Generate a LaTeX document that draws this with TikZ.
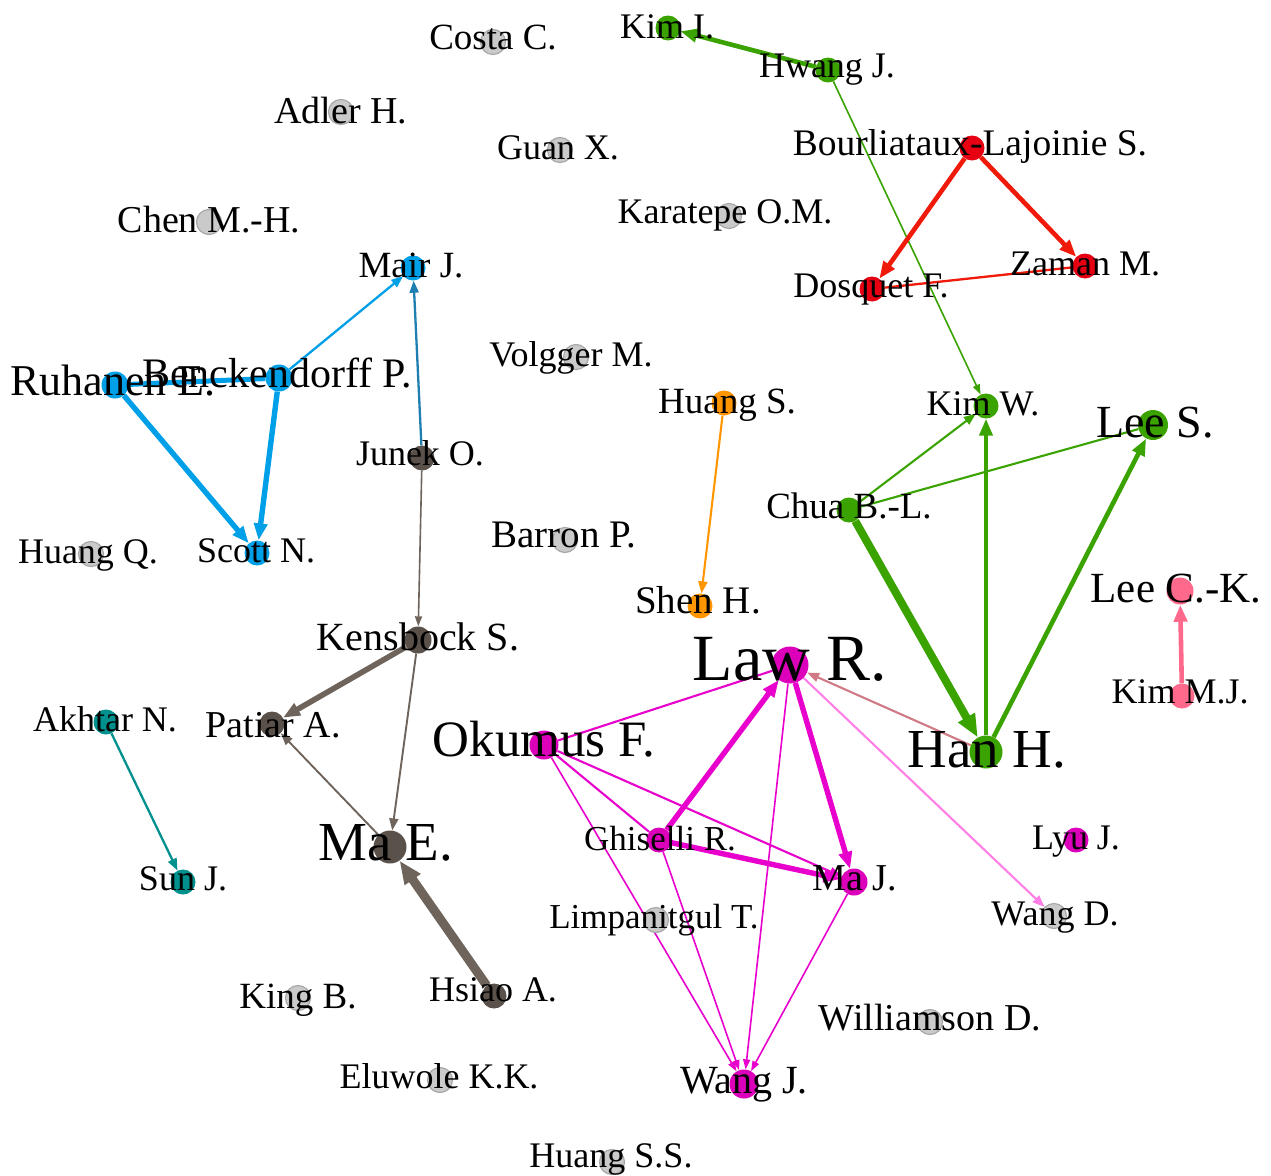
\documentclass[tikz,border=0pt]{standalone}
\usepackage{fontspec}
\setmainfont{Liberation Serif}
\usetikzlibrary{arrows.meta}
\pgfdeclarelayer{edgelayer}
\pgfsetlayers{edgelayer,main}
\definecolor{cgray}{HTML}{CACACA}
\definecolor{cgrayb}{HTML}{A8A8A8}
\definecolor{cblue}{HTML}{00A0E9}
\definecolor{cblued}{HTML}{1F7FB0}
\definecolor{cred}{HTML}{F01A0A}
\definecolor{credn}{HTML}{E60012}
\definecolor{cgreen}{HTML}{3AA300}
\definecolor{corange}{HTML}{FF9600}
\definecolor{cbrown}{HTML}{5A514A}
\definecolor{cbrowne}{HTML}{6E645C}
\definecolor{cmag}{HTML}{E800CC}
\definecolor{cmagn}{HTML}{DD00BB}
\definecolor{cpink}{HTML}{FF6A8C}
\definecolor{cteal}{HTML}{00918F}
\definecolor{crose}{HTML}{D07A86}
\definecolor{clmag}{HTML}{FF7FE6}
\newcommand{\fsz}[1]{\fontsize{#1}{#1}\selectfont}
\begin{document}
\begin{tikzpicture}[x=1pt,y=-1pt,
  nd/.style={circle,inner sep=0pt,minimum size=25pt},
  gnode/.style={nd,fill=cgray,draw=cgrayb,line width=1.2pt},
  lab/.style={anchor=base,inner sep=0pt,text=black,font=\fsz{36}},
  ea/.style={line width=1.6pt,-{Triangle[length=10pt,width=7pt]}},
  eb/.style={line width=2.3pt,-{Triangle[length=12pt,width=9pt]}},
  ec/.style={line width=4.6pt,-{Triangle[length=17pt,width=13pt]}},
  ed/.style={line width=8pt,-{Triangle[length=23pt,width=18pt]}},
  nb/.style={line width=2.3pt},
  nc/.style={line width=5pt}]
\useasboundingbox (0,0) rectangle (1271,1175);
% ---- node circles ----
\node[gnode] (costa) at (493,42) {};
\node[nd,fill=cgreen] (kimi) at (668,28) {};
\node[nd,fill=cgreen] (hwang) at (828,70) {};
\node[gnode] (adler) at (341,112) {};
\node[gnode] (guan) at (560,150) {};
\node[nd,fill=credn] (bourl) at (972,148) {};
\node[gnode] (chen) at (209,222) {};
\node[gnode] (karatepe) at (729,216) {};
\node[nd,fill=cblue] (mair) at (413,268) {};
\node[nd,fill=credn] (zaman) at (1085,266) {};
\node[nd,fill=credn] (dosquet) at (872,289) {};
\node[gnode] (volgger) at (576,357) {};
\node[nd,fill=cblue,minimum size=27pt] (ruhanen) at (115,385) {};
\node[nd,fill=cblue,minimum size=27pt] (benck) at (279,378) {};
\node[nd,fill=corange] (huangs) at (724,403) {};
\node[nd,fill=cgreen] (kimw) at (986,406) {};
\node[nd,fill=cgreen,minimum size=30pt] (lees) at (1153,425) {};
\node[nd,fill=cbrown] (junek) at (422,458) {};
\node[nd,fill=cgreen] (chua) at (849,510) {};
\node[gnode] (barron) at (565,540) {};
\node[gnode] (huangq) at (91,554) {};
\node[nd,fill=cblue] (scott) at (257,553) {};
\node[nd,fill=corange] (shen) at (700,606) {};
\node[nd,fill=cpink,minimum size=27pt] (leeck) at (1180,591) {};
\node[nd,fill=cbrown,minimum size=27pt] (kensbock) at (418,640) {};
\node[nd,fill=cmagn,minimum size=37pt] (law) at (790,665) {};
\node[nd,fill=cpink] (kimmj) at (1182,696) {};
\node[nd,fill=cteal] (akhtar) at (106,722) {};
\node[nd,fill=cbrown] (patiar) at (272,724) {};
\node[nd,fill=cmagn,minimum size=29pt] (okumus) at (544,745) {};
\node[nd,fill=cgreen,minimum size=33pt] (han) at (986,752) {};
\node[nd,fill=cbrown,minimum size=33pt] (mae) at (390,847) {};
\node[nd,fill=cmagn] (ghiselli) at (659,840) {};
\node[nd,fill=cmagn] (lyu) at (1076,840) {};
\node[nd,fill=cteal] (sunj) at (183,882) {};
\node[nd,fill=cmagn,minimum size=27pt] (maj) at (854,882) {};
\node[gnode] (limpan) at (656,920) {};
\node[gnode] (wangd) at (1054,916) {};
\node[gnode] (king) at (298,998) {};
\node[nd,fill=cbrown] (hsiao) at (494,996) {};
\node[gnode] (williamson) at (930,1022) {};
\node[gnode] (eluwole) at (440,1080) {};
\node[nd,fill=cmagn,minimum size=29pt] (wangj) at (744,1084) {};
\node[gnode] (huangss) at (612,1162) {};
% ---- edges ----
\begin{pgfonlayer}{edgelayer}
\fill[white] (0,0) rectangle (1271,1175);
\draw[ec,cgreen] (hwang) -- (kimi);
\draw[ea,cgreen] (hwang) -- (kimw);
\draw[ec,cred] (bourl) -- (dosquet);
\draw[ec,cred] (bourl) -- (zaman);
\draw[nb,cred] (zaman) -- (dosquet);
\draw[eb,cblue] (benck) -- (mair);
\draw[eb,cblued] (junek) -- (mair);
\draw[nc,cblue] (ruhanen) -- (benck);
\draw[ec,cblue,line width=5.4pt] (ruhanen) -- (scott);
\draw[ec,cblue,line width=5.4pt] (benck) -- (scott);
\draw[eb,corange,line width=2.1pt] (huangs) -- (shen);
\draw[eb,cgreen,line width=2.1pt] (chua) -- (kimw);
\draw[nb,cgreen,line width=2.1pt] (chua) -- (lees);
\draw[ed,cgreen] (chua) -- (han);
\draw[ec,cgreen,line width=4pt] (han) -- (kimw);
\draw[ec,cgreen] (han) -- (lees);
\draw[eb,crose,line width=2.1pt] (han) -- (law);
\draw[ec,cpink] (kimmj) -- (leeck);
\draw[ea,cbrowne] (junek) -- (kensbock);
\draw[ec,cbrowne,line width=5.6pt] (kensbock) -- (patiar);
\draw[eb,cbrowne,line width=1.9pt] (kensbock) -- (mae);
\draw[eb,cbrowne,line width=1.9pt] (mae) -- (patiar);
\draw[ed,cbrowne,line width=9pt] (hsiao) -- (mae);
\draw[eb,cteal] (akhtar) -- (sunj);
\draw[nb,cmag,line width=2.1pt] (okumus) -- (law);
\draw[ec,cmag,line width=5.4pt] (ghiselli) -- (law);
\draw[ec,cmag,line width=5.4pt] (law) -- (maj);
\draw[ea,cmag] (law) -- (wangj);
\draw[eb,clmag,line width=2.1pt] (law) -- (wangd);
\draw[nb,cmag,line width=2.1pt] (ghiselli) -- (okumus);
\draw[ec,cmag,line width=5.4pt] (ghiselli) -- (maj);
\draw[eb,cmag,line width=2.1pt] (okumus) -- (maj);
\draw[ea,cmag] (okumus) -- (wangj);
\draw[ea,cmag] (ghiselli) -- (wangj);
\draw[ea,cmag] (maj) -- (wangj);
\end{pgfonlayer}
% ---- labels ----
\node[lab,font=\fsz{37}] (l-costa) at (493,49) {Costa C.};
\node[lab] (l-kimi) at (667,38) {Kim I.};
\node[lab] (l-hwang) at (827,77) {Hwang J.};
\node[lab,font=\fsz{38}] (l-adler) at (341,123) {Adler H.};
\node[lab] (l-guan) at (558,159) {Guan X.};
\node[lab,font=\fsz{37.5}] (l-bourl) at (970,155) {Bourliataux-Lajoinie S.};
\node[lab,font=\fsz{38}] (l-chen) at (209,232) {Chen M.-H.};
\node[lab] (l-karatepe) at (725,223) {Karatepe O.M.};
\node[lab,font=\fsz{37}] (l-mair) at (411,277) {Mair J.};
\node[lab] (l-zaman) at (1085,275) {Zaman M.};
\node[lab] (l-dosquet) at (871,297) {Dosquet F.};
\node[lab] (l-volgger) at (571,366) {Volgger M.};
\node[lab,font=\fsz{44}] (l-ruhanen) at (113,395) {Ruhanen E.};
\node[lab,font=\fsz{42}] (l-benck) at (277,387) {Benckendorff P.};
\node[lab,font=\fsz{37}] (l-huangs) at (727,413) {Huang S.};
\node[lab] (l-kimw) at (983,415) {Kim W.};
\node[lab,font=\fsz{46}] (l-lees) at (1155,437) {Lee S.};
\node[lab] (l-junek) at (420,465) {Junek O.};
\node[lab,font=\fsz{37}] (l-chua) at (849,518) {Chua B.-L.};
\node[lab,font=\fsz{39}] (l-barron) at (564,547) {Barron P.};
\node[lab] (l-huangq) at (88,563) {Huang Q.};
\node[lab] (l-scott) at (256,562) {Scott N.};
\node[lab,font=\fsz{39}] (l-shen) at (698,613) {Shen H.};
\node[lab,font=\fsz{43}] (l-leeck) at (1176,602) {Lee C.-K.};
\node[lab,font=\fsz{40}] (l-kensbock) at (418,650) {Kensbock S.};
\node[lab,font=\fsz{66}] (l-law) at (790,680) {Law R.};
\node[lab] (l-kimmj) at (1180,703) {Kim M.J.};
\node[lab] (l-akhtar) at (105,731) {Akhtar N.};
\node[lab,font=\fsz{38}] (l-patiar) at (273,737) {Patiar A.};
\node[lab,font=\fsz{51}] (l-okumus) at (544,756) {Okumus F.};
\node[lab,font=\fsz{55}] (l-han) at (987,767) {Han H.};
\node[lab,font=\fsz{55}] (l-mae) at (386,860) {Ma E.};
\node[lab,font=\fsz{35}] (l-ghiselli) at (660,850) {Ghiselli R.};
\node[lab] (l-lyu) at (1076,849) {Lyu J.};
\node[lab] (l-sunj) at (183,890) {Sun J.};
\node[lab,font=\fsz{38}] (l-maj) at (855,890) {Ma J.};
\node[lab,font=\fsz{35}] (l-limpan) at (654,928) {Limpanitgul T.};
\node[lab] (l-wangd) at (1055,925) {Wang D.};
\node[lab,font=\fsz{37}] (l-king) at (298,1008) {King B.};
\node[lab] (l-hsiao) at (493,1001) {Hsiao A.};
\node[lab,font=\fsz{38}] (l-williamson) at (930,1030) {Williamson D.};
\node[lab] (l-eluwole) at (439,1088) {Eluwole K.K.};
\node[lab,font=\fsz{40}] (l-wangj) at (744,1093) {Wang J.};
\node[lab] (l-huangss) at (611,1167) {Huang S.S.};
\end{tikzpicture}
\end{document}
